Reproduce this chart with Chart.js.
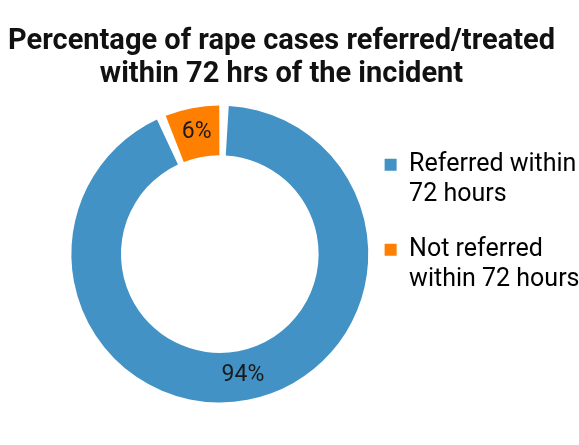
<!DOCTYPE html>
<html>
<head>
<meta charset="utf-8">
<script src="https://cdn.jsdelivr.net/npm/chart.js@4"></script>
<style>
  body { margin: 0; background: #fff; }
  #wrap { width: 579px; height: 445px; }
</style>
</head>
<body>
<div id="wrap"><canvas id="donut"></canvas></div>
<script>
const titleLines = ["Percentage of rape cases referred/treated", "within 72 hrs of the incident"];
const categories = [["Referred within", "72 hours"], ["Not referred", "within 72 hours"]];
const values = [94, 6];
const valueLabels = ["94%", "6%"];
const colors = ["#4292c6", "#ff7f00"];

// draws the % label in the middle of each ring segment
const sliceLabels = {
  id: "sliceLabels",
  afterDatasetsDraw(chart) {
    const ctx = chart.ctx;
    const meta = chart.getDatasetMeta(0);
    ctx.save();
    ctx.font = "23px Roboto";
    ctx.fillStyle = "#1a1a1a";
    ctx.textAlign = "center";
    ctx.textBaseline = "middle";
    meta.data.forEach((arc, i) => {
      const p = arc.tooltipPosition();
      ctx.fillText(valueLabels[i], p.x, p.y);
    });
    ctx.restore();
  }
};

// title centred on the page, legend tucked a bit closer to the ring
const nudge = {
  id: "nudge",
  afterLayout(chart) {
    chart.titleBlock.left = 0;
    chart.titleBlock.right = 563;
    const lg = chart.legend;
    lg.left -= 11.5;
    lg.right -= 11.5;
    lg.top += 23;
    lg.bottom += 23;
  }
};

new Chart(document.getElementById("donut"), {
  type: "doughnut",
  data: {
    labels: categories,
    datasets: [{
      data: values,
      backgroundColor: colors,
      borderWidth: 0,
      spacing: 5,
      hoverOffset: 0
    }]
  },
  options: {
    responsive: true,
    maintainAspectRatio: false,
    animation: false,
    cutout: "66%",
    layout: { padding: { left: 69.5, right: -22, top: 0, bottom: 42.5 } },
    plugins: {
      tooltip: { enabled: false },
      title: {
        display: true,
        text: titleLines,
        color: "#111",
        font: { family: "Roboto", size: 29, weight: "bold", lineHeight: 1.14 },
        padding: { top: 25.5, bottom: 14 }
      },
      legend: {
        position: "right",
        align: "center",
        labels: {
          color: "#222",
          font: { family: "Roboto", size: 25, lineHeight: 1.18 },
          boxWidth: 12,
          boxHeight: 12,
          padding: 26,
          generateLabels: () => categories.map((t, i) => ({
            text: t,
            fillStyle: colors[i],
            strokeStyle: colors[i],
            lineWidth: 0,
            hidden: false,
            index: i
          }))
        }
      }
    }
  },
  plugins: [sliceLabels, nudge]
});
</script>
</body>
</html>
